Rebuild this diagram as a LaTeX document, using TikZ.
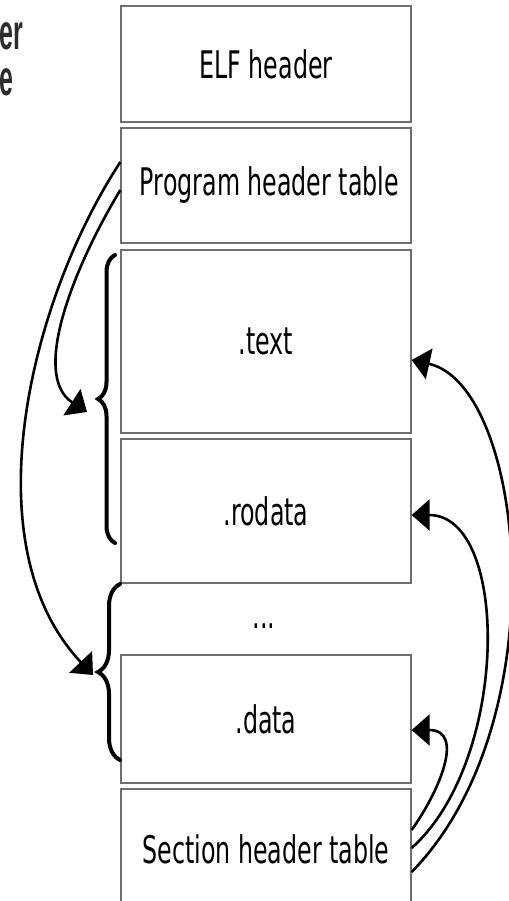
\documentclass[tikz,border=0pt]{standalone}
\usepackage{fontspec}
\usetikzlibrary{arrows.meta,decorations.pathreplacing}
\newfontfamily\boxfont[FakeStretch=0.625]{DejaVu Sans}
\newfontfamily\cutfont[FakeStretch=0.5]{Liberation Sans Bold}
\definecolor{boxgray}{RGB}{110,110,110}
\definecolor{cutgray}{RGB}{45,45,45}

\begin{document}
\begin{tikzpicture}[x=1pt, y=-1pt,
  section/.style={draw=boxgray, line width=1.3pt, minimum width=290pt, inner sep=0pt,
    font=\boxfont\fontsize{38pt}{40pt}\selectfont},
  link/.style={line width=2.6pt, -{Triangle[length=18pt,width=31pt]}},
  range/.style={line width=4pt, line cap=round, decorate, decoration={brace, amplitude=#1}},
  cut/.style={anchor=base west, inner sep=0pt, text=cutgray, font=\cutfont\fontsize{50pt}{50pt}\selectfont}]
  \useasboundingbox (0,0) rectangle (508,901);
  \node[cut] (cut1) at (-1,50) {er};
  \node[cut] (cut2) at (-1,96) {e};
  \node[section, minimum height=116pt] (elfhdr) at (266,64) {ELF header};
  \node[section, minimum height=115pt] (phdrs) at (266,185.5) {\hspace{7pt}Program header table};
  \node[section, minimum height=183pt] (textsec) at (266,341.5) {.text};
  \node[section, minimum height=144pt] (rodatasec) at (266,511) {.rodata};
  \node[section, draw=none] (gapsec) at (264,626) {...};
  \node[section, minimum height=128pt] (datasec) at (266,719) {.data};
  \node[section, minimum height=120pt] (shdrs) at (266,849) {Section header table};
  % Draw the segment braces
  \draw[range=17pt] (115,543) -- (115,255);
  \draw[range=22pt] (120,760) -- (120,584);
  \coordinate (segtip1) at (87,412);
  \coordinate (segtip2) at (93,675);
  % Draw the program header links
  \draw[link] ([yshift=23.5pt]phdrs.west) .. controls (30,300) and (-30,545) .. (segtip2);
  \draw[link] ([yshift=-4.5pt]phdrs.west) .. controls (75,265) and (30,375) .. (segtip1);
  % Draw the section header links
  \draw[link] ([yshift=19pt]shdrs.east) .. controls (440,790) and (465,730) .. ([yshift=-11pt]datasec.east);
  \draw[link] ([yshift=1pt]shdrs.east) .. controls (510,760) and (510,515) .. ([yshift=-4pt]rodatasec.east);
  \draw[link] ([yshift=-23pt]shdrs.east) .. controls (560,720) and (525,385) .. ([yshift=-18.5pt]textsec.east);
\end{tikzpicture}
\end{document}
